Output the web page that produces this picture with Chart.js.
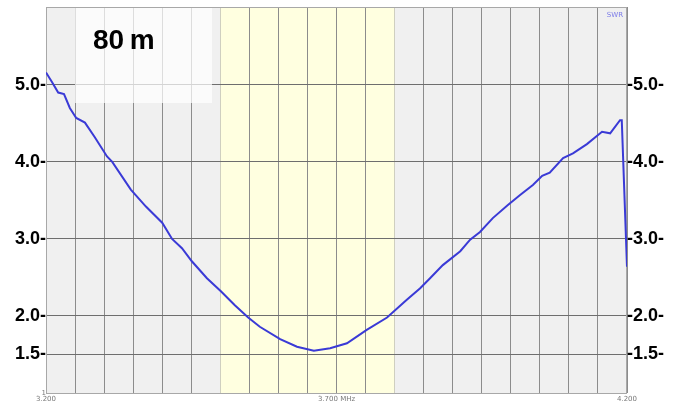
<!DOCTYPE html>
<html>
<head>
<meta charset="utf-8">
<script src="https://cdn.jsdelivr.net/npm/chart.js@4/dist/chart.umd.min.js"></script>
<style>
  html, body { margin: 0; padding: 0; background: #fff; }
  #wrap { width: 676px; height: 403px; }
</style>
</head>
<body>
<div id="wrap"><canvas id="swrChart" width="676" height="403"></canvas></div>
<script>
const freqMHz = [
  3.200, 3.210, 3.221, 3.231, 3.241, 3.252, 3.267, 3.284, 3.305, 3.314,
  3.346, 3.372, 3.400, 3.417, 3.434, 3.451, 3.477, 3.501, 3.525, 3.548,
  3.568, 3.603, 3.632, 3.661, 3.689, 3.718, 3.752, 3.787, 3.821, 3.844,
  3.861, 3.883, 3.913, 3.930, 3.947, 3.969, 3.995, 4.016, 4.038, 4.054,
  4.067, 4.090, 4.107, 4.131, 4.157, 4.171, 4.188, 4.191, 4.200
];
const swrValues = [
  5.16, 5.04, 4.90, 4.88, 4.70, 4.57, 4.51, 4.32, 4.07, 4.00,
  3.64, 3.42, 3.21, 3.00, 2.88, 2.71, 2.49, 2.32, 2.14, 1.98,
  1.86, 1.70, 1.60, 1.55, 1.58, 1.645, 1.82, 1.98, 2.21, 2.36,
  2.49, 2.66, 2.84, 2.99, 3.09, 3.27, 3.44, 3.57, 3.70, 3.82,
  3.86, 4.05, 4.11, 4.23, 4.39, 4.37, 4.54, 4.54, 2.64
];

// Axis ticks / gridlines
const swrTicks = [1, 1.5, 2, 3, 4, 5];
const freqGrid = [
  3.20, 3.25, 3.30, 3.35, 3.40, 3.45, 3.50, 3.55, 3.60, 3.65, 3.70,
  3.75, 3.80, 3.85, 3.90, 3.95, 4.00, 4.05, 4.10, 4.15, 4.20
];
const freqLabels = { "3200": "3.200", "3700": "3.700 MHz", "4200": "4.200" };
const bandStart = 3.5;
const bandEnd = 3.8;
const bandName = "80\u2009m";

const points = freqMHz.map((f, i) => ({ x: f, y: swrValues[i] }));

// no automatic label padding, chart area is set by the axis sizes
function noPadding(scale) {
  scale.paddingTop = 0;
  scale.paddingBottom = 0;
  scale.paddingLeft = 0;
  scale.paddingRight = 0;
}

const backgroundPlugin = {
  id: "swrBackground",
  beforeDraw(chart) {
    const { ctx, chartArea: a, scales } = chart;
    ctx.save();
    ctx.fillStyle = "#ffffff";
    ctx.fillRect(0, 0, chart.width, chart.height);
    ctx.fillStyle = "#f0f0f0";
    ctx.fillRect(a.left, a.top, a.right - a.left, a.bottom - a.top);
    const x1 = scales.x.getPixelForValue(bandStart);
    const x2 = scales.x.getPixelForValue(bandEnd);
    ctx.fillStyle = "#ffffe0";
    ctx.fillRect(x1, a.top, x2 - x1, a.bottom - a.top);
    ctx.restore();
  },
  beforeDatasetsDraw(chart) {
    const { ctx, chartArea: a } = chart;
    ctx.save();
    ctx.strokeStyle = "#a8a8a8";
    ctx.lineWidth = 1;
    ctx.strokeRect(a.left + 0.5, a.top + 0.5, a.right - a.left - 1, a.bottom - a.top);
    ctx.restore();
  },
  afterDraw(chart) {
    const { ctx, chartArea: a } = chart;
    ctx.save();
    // band name box
    ctx.fillStyle = "rgba(255,255,255,0.7)";
    ctx.fillRect(75, a.top + 1, 137, 95);
    ctx.fillStyle = "#000";
    ctx.font = "bold 28px 'Liberation Sans', Arial, sans-serif";
    ctx.textBaseline = "alphabetic";
    ctx.fillText(bandName, 93, 49);
    // trace name
    ctx.fillStyle = "#7a7ae8";
    ctx.font = "7px 'DejaVu Sans', sans-serif";
    ctx.textAlign = "right";
    ctx.fillText("SWR", a.right - 4, a.top + 10);
    ctx.restore();
  }
};

const tickFont = (c) => (c.tick && c.tick.value === 1)
  ? { family: "'DejaVu Sans', sans-serif", size: 7 }
  : { family: "'Liberation Sans', Arial, sans-serif", size: 18, weight: "bold" };

const ctx = document.getElementById("swrChart").getContext("2d");
const swrChart = new Chart(ctx, {
  type: "line",
  data: {
    datasets: [
      {
        label: "SWR",
        data: points,
        borderColor: "#3a3ad6",
        borderWidth: 2,
        pointRadius: 0,
        tension: 0,
        fill: false
      }
    ]
  },
  options: {
    responsive: false,
    animation: false,
    layout: { padding: { top: 7, left: 0, right: 0, bottom: 0 } },
    plugins: {
      legend: { display: false },
      tooltip: { enabled: false }
    },
    scales: {
      x: {
        type: "linear",
        min: 3.2,
        max: 4.2,
        afterBuildTicks: (scale) => { scale.ticks = freqGrid.map(v => ({ value: v })); },
        afterFit: (scale) => { scale.height = 10; noPadding(scale); },
        grid: {
          color: (c) => {
            const v = c.tick ? Math.round(c.tick.value * 1000) : 0;
            return (v === 3500 || v === 3800) ? "#cfcfc0" : "#8c8c8c";
          },
          lineWidth: 1,
          drawTicks: false
        },
        border: { display: false },
        ticks: {
          autoSkip: false,
          maxRotation: 0,
          padding: 2,
          color: "#777",
          font: { family: "'DejaVu Sans', sans-serif", size: 7 },
          callback: (v) => freqLabels[String(Math.round(v * 1000))] || ""
        }
      },
      y: {
        type: "linear",
        position: "left",
        min: 1,
        max: 6.01,
        afterBuildTicks: (scale) => { scale.ticks = swrTicks.map(v => ({ value: v })); },
        afterFit: (scale) => { scale.width = 46; noPadding(scale); },
        grid: { color: "#6e6e6e", lineWidth: 1, drawTicks: false },
        border: { display: false },
        ticks: {
          padding: 0,
          color: (c) => (c.tick && c.tick.value === 1) ? "#777" : "#000",
          font: tickFont,
          callback: (v) => v === 1 ? "1" : v.toFixed(1) + "-"
        }
      },
      y2: {
        type: "linear",
        position: "right",
        min: 1,
        max: 6.01,
        afterBuildTicks: (scale) => { scale.ticks = swrTicks.map(v => ({ value: v })); },
        afterFit: (scale) => { scale.width = 49; noPadding(scale); },
        grid: { display: false, drawTicks: false },
        border: { display: false },
        ticks: {
          padding: 0,
          color: "#000",
          font: { family: "'Liberation Sans', Arial, sans-serif", size: 18, weight: "bold" },
          callback: (v) => v === 1 ? "" : "-" + v.toFixed(1) + "-"
        }
      }
    }
  },
  plugins: [backgroundPlugin]
});
</script>
</body>
</html>
